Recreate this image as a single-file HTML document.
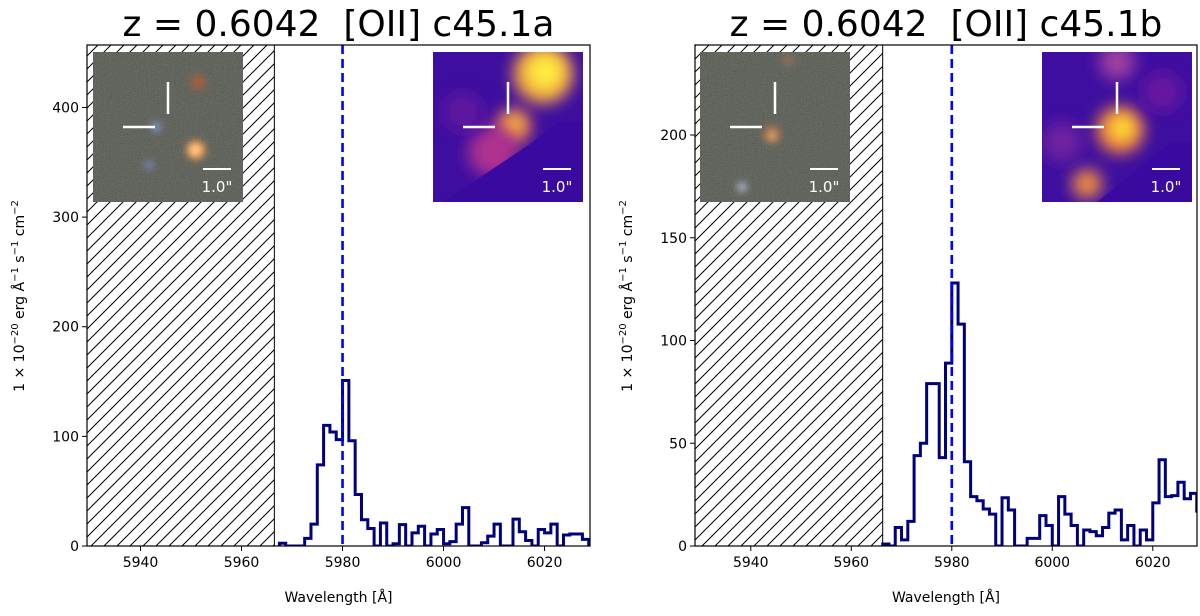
<!DOCTYPE html>
<html><head><meta charset="utf-8"><style>
body{margin:0;background:#fff;}
svg text{font-family:"DejaVu Sans","Liberation Sans",sans-serif;}
</style></head><body>
<svg id="fig" width="1200" height="611" xmlns="http://www.w3.org/2000/svg">
<defs>
<pattern id="hatch" patternUnits="userSpaceOnUse" width="13" height="13">
<path d="M-1,14 L14,-1 M-4,4 L4,-4 M9,17 L17,9" stroke="#000" stroke-width="1"/>
</pattern>
<filter id="blur4" x="-100%" y="-100%" width="300%" height="300%"><feGaussianBlur stdDeviation="4"/></filter>
<filter id="blur8" x="-100%" y="-100%" width="300%" height="300%"><feGaussianBlur stdDeviation="8"/></filter>
<filter id="noise" x="0" y="0" width="100%" height="100%"><feTurbulence type="fractalNoise" baseFrequency="0.9" numOctaves="1" seed="3"/><feColorMatrix values="0.5 0 0 0 0.0  0 0.5 0 0 0.02  0 0 0.5 0 0.0  0 0 0 0 1"/></filter>
<clipPath id="clipL"><rect x="87" y="45" width="503" height="501"/></clipPath>
<clipPath id="clipR"><rect x="695" y="45" width="502" height="501"/></clipPath>
</defs>
<g id="panels"></g>
</svg>
<script>
// Panel A data (c45.1a)
const binWidth = 1.25;
const startA = 5967.5;
const fluxA = [2.5,0,0,0,7,20,74,110,104,97,151,96,47,24,16,0,21,0,2,19.5,0,12,18,0,11,15,2,4,20,35,0,0,3,9,20,0,0,24.5,13,5,0,15,12,20,0,10,11,11,6];
// Panel B data (c45.1b)
const startB = 5966.25;
const fluxB = [1,0,9,3,12,44,50,79,79,43,89,128,108,41,24,22,18,15.5,0,23.5,17.5,0,0,3.7,3.7,14.8,10,0,24,15.5,10,0,7.8,7,5,9,16,17.5,3,10,0,7.8,3,21,42,24,24.5,31,23,25.6,17];
const xTicks = [5940,5960,5980,6000,6020];
const yTicksA = [0,100,200,300,400];
const yTicksB = [0,50,100,150,200];
const lineWave = 5980;
const SVGNS = "http://www.w3.org/2000/svg";
const root = document.getElementById('panels');
function mk(tag, attrs, parent){const e=document.createElementNS(SVGNS,tag);for(const k in attrs)e.setAttribute(k,attrs[k]);(parent||root).appendChild(e);return e;}

function panel(cfg){
  const g = mk('g',{});
  
  
  const L=cfg.left, R=cfg.right, T=45, B=546;
  const xs = w => L + (w - cfg.xmin)/(cfg.xmax-cfg.xmin)*(R-L);
  const ys = v => B - v/cfg.ymax*(B-T);
  const h = mk('rect',{x:L,y:T,width:xs(cfg.hatchEnd)-L,height:B-T,fill:'url(#hatch)',stroke:'#000','stroke-width':1},g);
  
  
  const ins = mk('g',{},g);
  
  
  const gx=cfg.gal[0], gy=52;
  const gcl = mk('clipPath',{id:'gc'+cfg.name},g);
  mk('rect',{x:gx,y:gy,width:150,height:150},gcl);
  const bl = mk('g',{'clip-path':'url(#gc'+cfg.name+')'},ins);
  mk('rect',{x:gx,y:gy,width:150,height:150,fill:'#3c3e34'},bl);
  mk('rect',{x:gx,y:gy,width:150,height:150,filter:'url(#noise)',opacity:0.5},bl);
  cfg.galBlobs.forEach(b=>{mk('circle',{cx:gx+b[0],cy:gy+b[1],r:b[2],fill:b[3],filter:'url(#blur4)'},bl);});
  cross(ins,gx,gy);
  const cx=cfg.map[0];
  const mp = mk('g',{},g);
  
  
  const mcl = mk('clipPath',{id:'mc'+cfg.name},g);
  mk('rect',{x:cx,y:gy,width:150,height:150},mcl);
  const mg = mk('g',{'clip-path':'url(#mc'+cfg.name+')'},mp);
  mk('rect',{x:cx,y:gy,width:150,height:150,fill:'#3d0ea0'},mg);
  cfg.mapBlobs.forEach(b=>{mk('circle',{cx:cx+b[0],cy:gy+b[1],r:b[2],fill:b[3],filter:'url(#blur8)'},mg);});
  if(cfg.mapPoly) mk('polygon',{points:cfg.mapPoly.map(p=>(cx+p[0])+','+(gy+p[1])).join(' '),fill:'#3a0aa0'},mg);
  cross(mp,cx,gy);
  const cl = mk('g',{'clip-path':'url(#'+cfg.clip+')'},g);
  let d='M'+xs(cfg.start)+','+ys(0);
  cfg.flux.forEach((v,i)=>{d+=' V'+ys(v)+' H'+xs(cfg.start+(i+1)*binWidth);});
  d+=' V'+ys(0);
  const sp = mk('path',{d:d,fill:'none',stroke:'#00007f','stroke-width':3,'stroke-linejoin':'miter'},cl);
  
  
  const dl = mk('line',{x1:xs(lineWave),x2:xs(lineWave),y1:T,y2:B,stroke:'#0000ff','stroke-width':2.6,'stroke-dasharray':'9,5'},cl);
  
  
  const fr = mk('rect',{x:L,y:T,width:R-L,height:B-T,fill:'none',stroke:'#000','stroke-width':1.2},g);
  
  
  xTicks.forEach(t=>{
    const x=xs(t);
    mk('line',{x1:x,x2:x,y1:B,y2:B+5,stroke:'#000','stroke-width':1},g);
    const tx=mk('text',{x:x,y:B+21,'text-anchor':'middle','font-size':14},g); tx.textContent=t;
    
    
  });
  cfg.yTicks.forEach(t=>{
    const y=ys(t);
    mk('line',{x1:L-5,x2:L,y1:y,y2:y,stroke:'#000','stroke-width':1},g);
    const tx=mk('text',{x:L-8,y:y+5,'text-anchor':'end','font-size':14},g); tx.textContent=t;
    
    
  });
  const xl=mk('text',{x:(L+R)/2,y:602,'text-anchor':'middle','font-size':14},g);
  xl.textContent='Wavelength [Å]';
  
  
  const yl=mk('text',{x:0,y:0,'text-anchor':'middle','font-size':14,transform:'translate('+cfg.ylabX+',296) rotate(-90)'},g);
  yl.innerHTML='1 × 10<tspan dy="-6" font-size="10">−20</tspan><tspan dy="6"> erg Å</tspan><tspan dy="-6" font-size="10">−1</tspan><tspan dy="6"> s</tspan><tspan dy="-6" font-size="10">−1</tspan><tspan dy="6"> cm</tspan><tspan dy="-6" font-size="10">−2</tspan>';
  
  
  const ti=mk('text',{x:(L+R)/2,y:36,'text-anchor':'middle','font-size':36},g);
  ti.textContent=cfg.title;
  
  
}
function cross(parent,x,y){
  mk('line',{x1:x+75,x2:x+75,y1:y+30,y2:y+62,stroke:'#fff','stroke-width':2.5},parent);
  mk('line',{x1:x+30,x2:x+62,y1:y+75,y2:y+75,stroke:'#fff','stroke-width':2.5},parent);
  mk('line',{x1:x+110,x2:x+138,y1:y+117,y2:y+117,stroke:'#fff','stroke-width':2},parent);
  const t=mk('text',{x:x+124,y:y+140,'text-anchor':'middle','font-size':15,fill:'#fff'},parent);
  t.textContent='1.0"';
}
panel({name:'panel-c45-1a',left:87,right:590,xmin:5929.4,xmax:6029,ymax:457,hatchEnd:5966.5,
  start:startA,flux:fluxA,yTicks:yTicksA,clip:'clipL',ylabX:24,title:'z = 0.6042 \u00a0[OII] c45.1a',
  gal:[93],map:[433],
  galBlobs:[[103,98,9,'#ffa050'],[102,98,4,'#fff0c0'],[105,30,8,'#a06040'],[63,75,4,'#9ab0ff'],[56,113,4,'#8090d0']],
  mapBlobs:[[110,22,30,'#f0a040'],[112,20,18,'#ffee40'],[80,75,18,'#e07050'],[82,72,9,'#ffd040'],[60,100,25,'#b03090'],[30,60,20,'#6018a0']],
  mapPoly:[[150,70],[150,150],[10,150],[40,130],[70,110],[100,90],[125,70]]});
panel({name:'panel-c45-1b',left:695,right:1197,xmin:5928.9,xmax:6028.8,ymax:243.8,hatchEnd:5966.25,
  start:startB,flux:fluxB,yTicks:yTicksB,clip:'clipR',ylabX:632,title:'z = 0.6042 \u00a0[OII] c45.1b',
  gal:[700],map:[1042],
  galBlobs:[[72,82,9,'#a07050'],[72,84,4,'#ffc080'],[42,135,4,'#d0e0ff'],[88,8,6,'#907060']],
  mapBlobs:[[78,78,24,'#f08040'],[80,76,12,'#ffea30'],[45,132,15,'#f09040'],[75,10,18,'#a040a0'],[20,90,20,'#7020a0'],[120,40,20,'#6818a0']],
  mapPoly:[[150,90],[150,150],[55,150],[80,130],[105,110],[130,90]]});
</script>
</body></html>
